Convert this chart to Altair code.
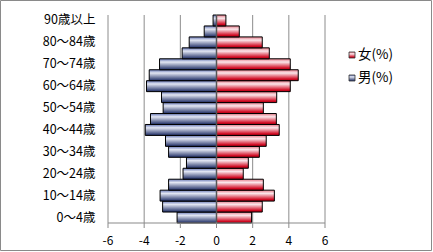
import altair as alt
import pandas as pd

ages = ["0～4歳", "5～9歳", "10～14歳", "15～19歳", "20～24歳", "25～29歳", "30～34歳",
        "35～39歳", "40～44歳", "45～49歳", "50～54歳", "55～59歳", "60～64歳", "65～69歳",
        "70～74歳", "75～79歳", "80～84歳", "85～89歳", "90歳以上"]
male = [-2.18, -2.98, -3.12, -2.65, -1.85, -1.66, -2.65, -2.82, -3.94, -3.65,
        -2.95, -3.04, -3.87, -3.72, -3.15, -1.90, -1.51, -0.68, -0.19]
female = [1.94, 2.53, 3.20, 2.59, 1.48, 1.76, 2.37, 2.75, 3.47, 3.31,
          2.59, 3.33, 4.08, 4.52, 4.08, 2.92, 2.53, 1.26, 0.52]
x_ticks = [-6, -4, -2, 0, 2, 4, 6]
x_tick_labels = ["-6", "-4", "-2", "0", "2", "4", "6"]
legend_labels = ["女(%)", "男(%)"]

FONT = "Noto Sans CJK JP"
W, H = 217, 208
AXIS_GRAY = "#8a8a8a"

df = pd.DataFrame({"age": ages, "male": male, "female": female})

blue_grad = alt.Gradient(
    gradient="linear", x1=0, x2=0, y1=0, y2=1,
    stops=[alt.GradientStop(color="#6676b4", offset=0),
           alt.GradientStop(color="#e2e6f3", offset=0.3),
           alt.GradientStop(color="#1b2a62", offset=1)])
red_grad = alt.Gradient(
    gradient="linear", x1=0, x2=0, y1=0, y2=1,
    stops=[alt.GradientStop(color="#e57a88", offset=0),
           alt.GradientStop(color="#fbe6ea", offset=0.3),
           alt.GradientStop(color="#d10a22", offset=0.85),
           alt.GradientStop(color="#a80012", offset=1)])

yenc = alt.Y("age:N", scale=alt.Scale(domain=ages[::-1], paddingInner=0, paddingOuter=0),
             axis=alt.Axis(title=None, values=ages[::2], domain=False, ticks=False, tickSize=0,
                           labelPadding=13, labelFontSize=12.5, labelColor="#000",
                           labelFont=FONT, grid=False))
xscale = alt.Scale(domain=[-6, 6], nice=False, zero=False)

grid = alt.Chart(pd.DataFrame({"g": x_ticks})).mark_rule(color="#8c8c8c", strokeWidth=1).encode(
    x=alt.X("g:Q", scale=xscale, axis=None))

base = alt.Chart(df)
male_bars = base.mark_bar(fill=blue_grad, stroke="#000", strokeWidth=1).encode(
    x=alt.X("male:Q", scale=xscale, axis=None), x2=alt.datum(0), y=yenc)
female_bars = base.mark_bar(fill=red_grad, stroke="#000", strokeWidth=1).encode(
    x=alt.X("female:Q", scale=xscale, axis=None), x2=alt.datum(0), y=yenc)

zero = alt.Chart(pd.DataFrame({"z": [0]})).mark_rule(color="#555555", strokeWidth=1.5).encode(
    x=alt.X("z:Q", scale=xscale, axis=None))

x_domain = alt.Chart(pd.DataFrame({"lo": [x_ticks[0]], "hi": [x_ticks[-1]]})).mark_rect(
    fill=AXIS_GRAY).encode(
    x=alt.X("lo:Q", scale=xscale, axis=None), x2="hi:Q", y=alt.value(H - 0.5), y2=alt.value(H + 0.5))
x_tickmarks = alt.Chart(pd.DataFrame({"t": x_ticks})).mark_tick(
    color=AXIS_GRAY, orient="vertical", size=5, thickness=1, opacity=1).encode(
    x=alt.X("t:Q", scale=xscale, axis=None), y=alt.value(H + 2.5))
x_labels = alt.Chart(pd.DataFrame({"lx": x_ticks, "lab": x_tick_labels})).mark_text(
    align="center", baseline="middle", fontSize=12, font=FONT, color="#000").encode(
    x=alt.X("lx:Q", scale=xscale, axis=None), y=alt.value(H + 18), text="lab:N")

one = pd.DataFrame({"a": [0]})
border = alt.Chart(one).mark_rect(fill="transparent", stroke=AXIS_GRAY, strokeWidth=1).encode(
    x=alt.value(-107.5), x2=alt.value(323.5), y=alt.value(-14.5), y2=alt.value(235.5))

leg_red = alt.Chart(pd.DataFrame({"t": [legend_labels[0]]}))
leg_blue = alt.Chart(pd.DataFrame({"t": [legend_labels[1]]}))
sq_red = leg_red.mark_rect(fill=red_grad, stroke="#333", strokeWidth=0.8).encode(
    x=alt.value(241), x2=alt.value(247), y=alt.value(37), y2=alt.value(43))
sq_blue = leg_blue.mark_rect(fill=blue_grad, stroke="#333", strokeWidth=0.8).encode(
    x=alt.value(241), x2=alt.value(247), y=alt.value(60), y2=alt.value(66))
tx_red = leg_red.mark_text(align="left", baseline="middle", fontSize=13.5, font=FONT, color="#000").encode(
    x=alt.value(250), y=alt.value(40), text="t:N")
tx_blue = leg_blue.mark_text(align="left", baseline="middle", fontSize=13.5, font=FONT, color="#000").encode(
    x=alt.value(250), y=alt.value(63), text="t:N")

chart = alt.layer(grid, male_bars, female_bars, zero, x_domain, x_tickmarks, x_labels,
                  border, sq_red, sq_blue, tx_red, tx_blue).properties(
    width=W, height=H, autosize="none",
    padding={"left": 108, "top": 15, "right": 108, "bottom": 29},
    background="white"
).configure_view(strokeWidth=0)

chart.save("out.html", embed_options={"renderer": "svg", "actions": False})
